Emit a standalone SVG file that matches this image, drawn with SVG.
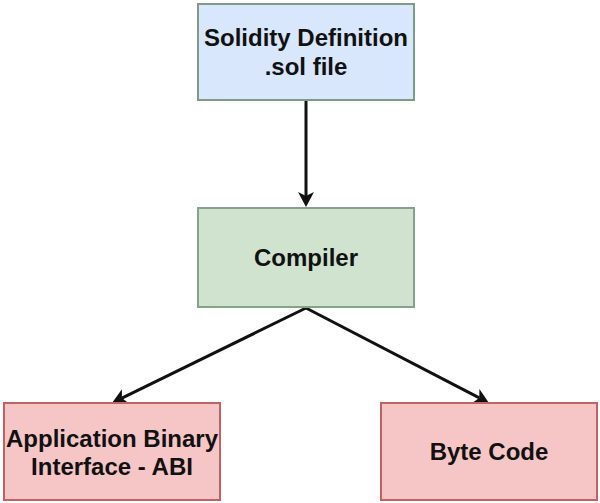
<svg xmlns="http://www.w3.org/2000/svg" width="600" height="503" viewBox="0 0 600 503">
<style>
.box{stroke-width:2}
.blue{fill:#d8e7fb;stroke:#7f9a85}
.green{fill:#cfe3cf;stroke:#87a28a}
.red{fill:#f6c6c6;stroke:#c46262}
.lbl{font-family:"Liberation Sans",Arial,sans-serif;font-weight:bold;font-size:24px;fill:#111;text-anchor:middle}
.edge{fill:none;stroke:#111;stroke-width:3}
.head{fill:#111}
</style>
<rect width="600" height="503" fill="#fff"/>
<g id="connectors">
<line class="edge" x1="306" y1="100" x2="306" y2="196"/>
<path class="head" d="M306,207 L298,192 L306,196 L314,192 Z"/>
<line class="edge" x1="306" y1="308" x2="121.9" y2="398.1"/>
<path class="head" d="M112,403 L121.9,389.2 L121.9,398.1 L129,403.5 Z"/>
<line class="edge" x1="306" y1="308" x2="479.3" y2="397.9"/>
<path class="head" d="M489,403 L479.4,389 L479.3,397.9 L472,403.1 Z"/>
</g>
<g id="solidity">
<rect class="box blue" x="198" y="4" width="216" height="96"/>
<text class="lbl" x="306" y="46">Solidity Definition</text>
<text class="lbl" x="306" y="75">.sol file</text>
</g>
<g id="compiler">
<rect class="box green" x="198" y="208" width="216" height="99"/>
<text class="lbl" x="306" y="266">Compiler</text>
</g>
<g id="abi">
<rect class="box red" x="4" y="403" width="216" height="97"/>
<text class="lbl" x="112" y="447">Application Binary</text>
<text class="lbl" x="112" y="475">Interface - ABI</text>
</g>
<g id="bytecode">
<rect class="box red" x="381" y="403" width="216" height="97"/>
<text class="lbl" x="489" y="460">Byte Code</text>
</g>
</svg>
